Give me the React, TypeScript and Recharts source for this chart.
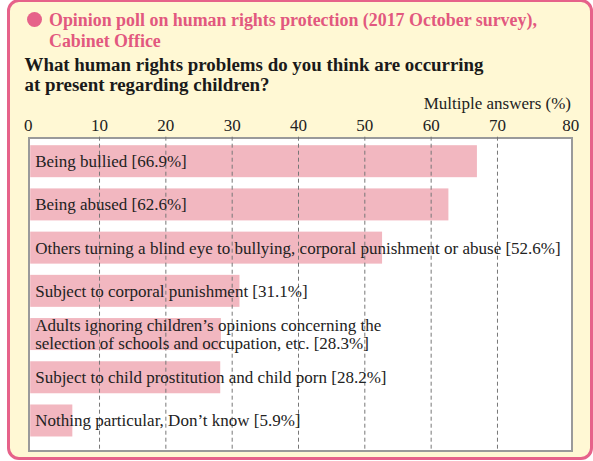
import React from 'react';
import { Bar, BarChart, LabelList, ReferenceLine, XAxis, YAxis } from 'recharts';

const categories = [
  ['Being bullied [66.9%]'],
  ['Being abused [62.6%]'],
  ['Others turning a blind eye to bullying, corporal punishment or abuse [52.6%]'],
  ['Subject to corporal punishment [31.1%]'],
  ['Adults ignoring children\u2019s opinions concerning the', 'selection of schools and occupation, etc. [28.3%]'],
  ['Subject to child prostitution and child porn [28.2%]'],
  ['Nothing particular, Don\u2019t know [5.9%]'],
];
const values = [66.9, 62.6, 52.6, 31.1, 28.3, 28.2, 5.9];
const xTicks = [0, 10, 20, 30, 40, 50, 60, 70, 80];
const gridValues = [10, 20, 30, 40, 50, 60, 70];

const data = values.map((value, i) => ({ name: categories[i].join(' '), lines: categories[i], value }));

const SERIF = '"Liberation Serif", "Times New Roman", serif';
const PINK = '#E6628A';
const BAR_BLEED = 3;

const TopTick = ({ x, y, payload }: any) => {
  const nudge = payload.value === 0 ? -5 : payload.value === 80 ? 7 : 0;
  return (
    <text x={x + nudge} y={y} dy="0.35em" textAnchor="middle" fontFamily={SERIF} fontSize={17} fill="#222">
      {payload.value}
    </text>
  );
};

const BarShape = ({ x, y, width, height }: any) => (
  <rect x={x - BAR_BLEED} y={y} width={width + BAR_BLEED} height={height} fill="#F2B7C0" />
);

const BarLabel = ({ x, y, height, index }: any) => {
  const lines: string[] = data[index].lines;
  const cy = y + height / 2;
  const lh = 17.4;
  const top = cy - ((lines.length - 1) * lh) / 2;
  return (
    <text x={x + 2} y={top} fontFamily={SERIF} fontSize={17} fill="#222">
      {lines.map((l, i) => (
        <tspan key={i} x={x + 2} dy={i === 0 ? '0.35em' : lh}>
          {l}
        </tspan>
      ))}
    </text>
  );
};

const App = () => {
  return (
    <div
      style={{
        position: 'absolute',
        left: 0,
        top: 0,
        width: 593,
        height: 461,
        overflow: 'hidden',
        fontFamily: SERIF,
      }}>
      <div
        style={{
          position: 'absolute',
          left: 7,
          top: -1,
          width: 586,
          height: 461,
          boxSizing: 'border-box',
          border: `3px solid ${PINK}`,
          borderRadius: 12,
          background: '#FFF8D4',
        }}
      />
      <div
        style={{
          position: 'absolute',
          left: 27,
          top: 11.5,
          width: 15,
          height: 15,
          borderRadius: '50%',
          background: PINK,
        }}
      />
      <div
        style={{
          position: 'absolute',
          left: 49,
          top: 10,
          fontSize: 17.9,
          lineHeight: '20.5px',
          fontWeight: 'bold',
          color: '#E2587F',
          whiteSpace: 'nowrap',
        }}>
        Opinion poll on human rights protection (2017 October survey),
        <br />
        Cabinet Office
      </div>
      <div
        style={{
          position: 'absolute',
          left: 24.5,
          top: 54.5,
          fontSize: 18.9,
          lineHeight: '20px',
          fontWeight: 'bold',
          color: '#1a1a1a',
          whiteSpace: 'nowrap',
        }}>
        What human rights problems do you think are occurring
        <br />
        at present regarding children?
      </div>
      <div
        style={{
          position: 'absolute',
          right: 22,
          top: 94.5,
          fontSize: 17,
          lineHeight: '18px',
          color: '#222',
          whiteSpace: 'nowrap',
        }}>
        Multiple answers (%)
      </div>
      <div
        style={{
          position: 'absolute',
          left: 28,
          top: 136.5,
          width: 545,
          height: 315,
          boxSizing: 'border-box',
          border: '2.5px solid #9a9a9a',
          background: '#fff',
        }}
      />
      <div style={{ position: 'absolute', left: 0, top: 0 }}>
        <BarChart
          width={593}
          height={461}
          data={data}
          layout="vertical"
          margin={{ top: 106.7, right: 29.2, bottom: 10.3, left: 33.2 }}>
          <XAxis
            type="number"
            orientation="top"
            domain={[0, 80]}
            ticks={xTicks}
            height={30}
            tickSize={0}
            tickMargin={12}
            axisLine={false}
            tickLine={false}
            tick={<TopTick />}
            interval={0}
          />
          <YAxis type="category" dataKey="name" hide padding={{ top: 2.5, bottom: 9 }} />
          {gridValues.map((v) => (
            <ReferenceLine key={v} x={v} stroke="#777" strokeWidth={1} strokeDasharray="4 3" />
          ))}
          <Bar dataKey="value" barSize={32} shape={<BarShape />} isAnimationActive={false}>
            <LabelList dataKey="value" content={<BarLabel />} />
          </Bar>
        </BarChart>
      </div>
    </div>
  );
};

export default App;
